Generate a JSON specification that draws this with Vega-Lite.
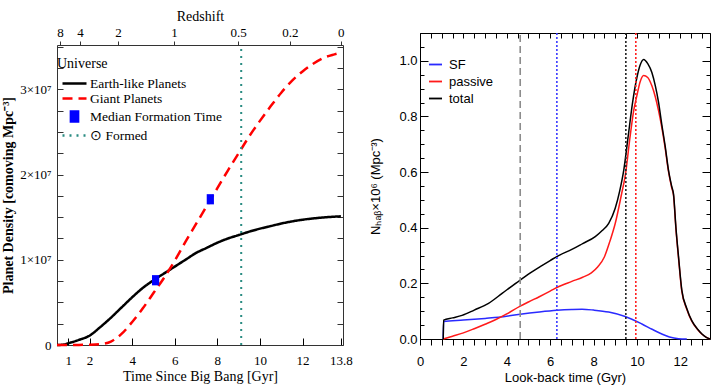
{
  "$schema": "https://vega.github.io/schema/vega-lite/v6.json",
  "padding": {"left": 1, "top": 8, "right": 2, "bottom": 2},
  "background": "white",
  "spacing": 16,
  "resolve": {
    "scale": {"color": "independent", "strokeDash": "independent", "shape": "independent", "stroke": "independent"},
    "legend": {"color": "independent", "strokeDash": "independent", "shape": "independent", "stroke": "independent"}
  },
  "datasets": {
    "planets": [
      {"series": "Earth-like Planets", "t": 0.47, "density": 0},
      {"series": "Earth-like Planets", "t": 0.8, "density": 50000},
      {"series": "Earth-like Planets", "t": 1.0, "density": 200000},
      {"series": "Earth-like Planets", "t": 1.5, "density": 600000},
      {"series": "Earth-like Planets", "t": 2.0, "density": 1100000},
      {"series": "Earth-like Planets", "t": 2.5, "density": 2100000},
      {"series": "Earth-like Planets", "t": 3.0, "density": 3200000},
      {"series": "Earth-like Planets", "t": 3.5, "density": 4400000},
      {"series": "Earth-like Planets", "t": 4.0, "density": 5600000},
      {"series": "Earth-like Planets", "t": 4.5, "density": 6700000},
      {"series": "Earth-like Planets", "t": 5.0, "density": 7600000},
      {"series": "Earth-like Planets", "t": 5.5, "density": 8400000},
      {"series": "Earth-like Planets", "t": 6.0, "density": 9200000},
      {"series": "Earth-like Planets", "t": 6.5, "density": 10000000},
      {"series": "Earth-like Planets", "t": 7.0, "density": 10800000},
      {"series": "Earth-like Planets", "t": 7.5, "density": 11400000},
      {"series": "Earth-like Planets", "t": 8.0, "density": 12000000},
      {"series": "Earth-like Planets", "t": 8.5, "density": 12500000},
      {"series": "Earth-like Planets", "t": 9.0, "density": 12900000},
      {"series": "Earth-like Planets", "t": 9.5, "density": 13300000},
      {"series": "Earth-like Planets", "t": 10.0, "density": 13650000},
      {"series": "Earth-like Planets", "t": 10.5, "density": 13950000},
      {"series": "Earth-like Planets", "t": 11.0, "density": 14250000},
      {"series": "Earth-like Planets", "t": 11.5, "density": 14500000},
      {"series": "Earth-like Planets", "t": 12.0, "density": 14700000},
      {"series": "Earth-like Planets", "t": 12.5, "density": 14850000},
      {"series": "Earth-like Planets", "t": 13.0, "density": 14970000},
      {"series": "Earth-like Planets", "t": 13.8, "density": 15100000},
      {"series": "Giant Planets", "t": 0.47, "density": 0},
      {"series": "Giant Planets", "t": 1.0, "density": 0},
      {"series": "Giant Planets", "t": 1.5, "density": 10000},
      {"series": "Giant Planets", "t": 2.0, "density": 30000},
      {"series": "Giant Planets", "t": 2.5, "density": 100000},
      {"series": "Giant Planets", "t": 3.0, "density": 400000},
      {"series": "Giant Planets", "t": 3.5, "density": 1300000},
      {"series": "Giant Planets", "t": 4.0, "density": 2700000},
      {"series": "Giant Planets", "t": 4.5, "density": 4300000},
      {"series": "Giant Planets", "t": 5.0, "density": 6100000},
      {"series": "Giant Planets", "t": 5.5, "density": 7900000},
      {"series": "Giant Planets", "t": 6.0, "density": 9900000},
      {"series": "Giant Planets", "t": 6.5, "density": 12100000},
      {"series": "Giant Planets", "t": 7.0, "density": 14200000},
      {"series": "Giant Planets", "t": 7.5, "density": 16300000},
      {"series": "Giant Planets", "t": 8.0, "density": 18400000},
      {"series": "Giant Planets", "t": 8.5, "density": 20500000},
      {"series": "Giant Planets", "t": 9.0, "density": 22500000},
      {"series": "Giant Planets", "t": 9.5, "density": 24500000},
      {"series": "Giant Planets", "t": 10.0, "density": 26300000},
      {"series": "Giant Planets", "t": 10.5, "density": 28000000},
      {"series": "Giant Planets", "t": 11.0, "density": 29600000},
      {"series": "Giant Planets", "t": 11.5, "density": 31000000},
      {"series": "Giant Planets", "t": 12.0, "density": 32100000},
      {"series": "Giant Planets", "t": 12.5, "density": 33000000},
      {"series": "Giant Planets", "t": 13.0, "density": 33700000},
      {"series": "Giant Planets", "t": 13.5, "density": 34100000},
      {"series": "Giant Planets", "t": 13.8, "density": 34300000}
    ],
    "median": [
      {"series": "Median Formation Time", "planets": "Earth-like", "t": 5.1, "density": 7600000},
      {"series": "Median Formation Time", "planets": "Giant", "t": 7.67, "density": 17100000}
    ],
    "formed": [
      {"series": "⊙ Formed", "t": 9.12}
    ],
    "nhab": [
      {"series": "SF", "t": 1.07, "n": 0},
      {"series": "SF", "t": 1.09, "n": 0.063},
      {"series": "SF", "t": 2.0, "n": 0.068},
      {"series": "SF", "t": 3.0, "n": 0.074},
      {"series": "SF", "t": 3.62, "n": 0.078},
      {"series": "SF", "t": 4.62, "n": 0.089},
      {"series": "SF", "t": 5.5, "n": 0.097},
      {"series": "SF", "t": 6.31, "n": 0.103},
      {"series": "SF", "t": 7.0, "n": 0.106},
      {"series": "SF", "t": 7.47, "n": 0.107},
      {"series": "SF", "t": 8.0, "n": 0.104},
      {"series": "SF", "t": 8.7, "n": 0.097},
      {"series": "SF", "t": 9.46, "n": 0.081},
      {"series": "SF", "t": 10.23, "n": 0.054},
      {"series": "SF", "t": 10.7, "n": 0.035},
      {"series": "SF", "t": 11.15, "n": 0.018},
      {"series": "SF", "t": 11.5, "n": 0.007},
      {"series": "SF", "t": 11.92, "n": 0.001},
      {"series": "SF", "t": 12.3, "n": 0},
      {"series": "passive", "t": 1.07, "n": 0},
      {"series": "passive", "t": 1.5, "n": 0.01},
      {"series": "passive", "t": 2.0, "n": 0.022},
      {"series": "passive", "t": 2.5, "n": 0.037},
      {"series": "passive", "t": 3.0, "n": 0.053},
      {"series": "passive", "t": 3.5, "n": 0.07},
      {"series": "passive", "t": 4.0, "n": 0.09},
      {"series": "passive", "t": 4.62, "n": 0.118},
      {"series": "passive", "t": 5.0, "n": 0.133},
      {"series": "passive", "t": 5.5, "n": 0.152},
      {"series": "passive", "t": 6.0, "n": 0.172},
      {"series": "passive", "t": 6.31, "n": 0.185},
      {"series": "passive", "t": 7.0, "n": 0.207},
      {"series": "passive", "t": 7.5, "n": 0.222},
      {"series": "passive", "t": 7.9, "n": 0.238},
      {"series": "passive", "t": 8.2, "n": 0.26},
      {"series": "passive", "t": 8.5, "n": 0.295},
      {"series": "passive", "t": 8.75, "n": 0.35},
      {"series": "passive", "t": 9.0, "n": 0.415},
      {"series": "passive", "t": 9.3, "n": 0.524},
      {"series": "passive", "t": 9.46, "n": 0.586},
      {"series": "passive", "t": 9.69, "n": 0.73},
      {"series": "passive", "t": 9.85, "n": 0.82},
      {"series": "passive", "t": 10.0, "n": 0.875},
      {"series": "passive", "t": 10.15, "n": 0.925},
      {"series": "passive", "t": 10.31, "n": 0.947},
      {"series": "passive", "t": 10.5, "n": 0.94},
      {"series": "passive", "t": 10.69, "n": 0.91},
      {"series": "passive", "t": 10.85, "n": 0.87},
      {"series": "passive", "t": 11.0, "n": 0.82},
      {"series": "passive", "t": 11.15, "n": 0.76},
      {"series": "passive", "t": 11.3, "n": 0.688},
      {"series": "passive", "t": 11.45, "n": 0.605},
      {"series": "passive", "t": 11.6, "n": 0.545},
      {"series": "passive", "t": 11.69, "n": 0.515},
      {"series": "passive", "t": 11.8, "n": 0.395},
      {"series": "passive", "t": 11.92, "n": 0.29},
      {"series": "passive", "t": 12.07, "n": 0.172},
      {"series": "passive", "t": 12.3, "n": 0.107},
      {"series": "passive", "t": 12.53, "n": 0.064},
      {"series": "passive", "t": 12.8, "n": 0.034},
      {"series": "passive", "t": 13.0, "n": 0.017},
      {"series": "passive", "t": 13.2, "n": 0.006},
      {"series": "passive", "t": 13.37, "n": 0},
      {"series": "total", "t": 1.07, "n": 0},
      {"series": "total", "t": 1.09, "n": 0.068},
      {"series": "total", "t": 1.5, "n": 0.076},
      {"series": "total", "t": 1.94, "n": 0.085},
      {"series": "total", "t": 2.5, "n": 0.104},
      {"series": "total", "t": 3.16, "n": 0.128},
      {"series": "total", "t": 3.8, "n": 0.165},
      {"series": "total", "t": 4.62, "n": 0.212},
      {"series": "total", "t": 5.0, "n": 0.233},
      {"series": "total", "t": 5.54, "n": 0.26},
      {"series": "total", "t": 6.0, "n": 0.282},
      {"series": "total", "t": 6.39, "n": 0.3},
      {"series": "total", "t": 7.0, "n": 0.322},
      {"series": "total", "t": 7.5, "n": 0.343},
      {"series": "total", "t": 8.08, "n": 0.368},
      {"series": "total", "t": 8.4, "n": 0.39},
      {"series": "total", "t": 8.7, "n": 0.416},
      {"series": "total", "t": 9.0, "n": 0.47},
      {"series": "total", "t": 9.2, "n": 0.53},
      {"series": "total", "t": 9.4, "n": 0.61},
      {"series": "total", "t": 9.6, "n": 0.73},
      {"series": "total", "t": 9.8, "n": 0.85},
      {"series": "total", "t": 10.0, "n": 0.94},
      {"series": "total", "t": 10.15, "n": 0.985},
      {"series": "total", "t": 10.31, "n": 1.005},
      {"series": "total", "t": 10.5, "n": 0.99},
      {"series": "total", "t": 10.69, "n": 0.958},
      {"series": "total", "t": 10.85, "n": 0.91},
      {"series": "total", "t": 11.0, "n": 0.85},
      {"series": "total", "t": 11.15, "n": 0.77},
      {"series": "total", "t": 11.3, "n": 0.695},
      {"series": "total", "t": 11.45, "n": 0.61},
      {"series": "total", "t": 11.6, "n": 0.55},
      {"series": "total", "t": 11.69, "n": 0.52},
      {"series": "total", "t": 11.8, "n": 0.4},
      {"series": "total", "t": 11.92, "n": 0.295},
      {"series": "total", "t": 12.07, "n": 0.176},
      {"series": "total", "t": 12.3, "n": 0.11},
      {"series": "total", "t": 12.53, "n": 0.066},
      {"series": "total", "t": 12.8, "n": 0.035},
      {"series": "total", "t": 13.0, "n": 0.018},
      {"series": "total", "t": 13.2, "n": 0.006},
      {"series": "total", "t": 13.37, "n": 0}
    ],
    "vlines": [
      {"ref": "Sun", "t": 4.62},
      {"ref": "SF median", "t": 6.31},
      {"ref": "total median", "t": 9.49},
      {"ref": "passive median", "t": 9.95}
    ]
  },
  "hconcat": [
    {
      "vconcat": [
        {
          "width": 286,
          "height": 12,
          "view": {"stroke": null},
          "data": {"values": [{}]},
          "mark": {"type": "point", "opacity": 0}
        },
        {
          "width": 286,
          "height": 300,
          "view": {"stroke": "#333333", "strokeWidth": 1},
          "layer": [
            {
              "data": {"name": "planets"},
              "mark": {"type": "line", "strokeWidth": 2.5, "interpolate": "monotone"},
              "encoding": {
                "x": {
                  "field": "t", "type": "quantitative",
                  "scale": {"domain": [0.47, 13.9], "nice": false, "zero": false},
                  "axis": {
                    "orient": "bottom", "values": [1, 2, 4, 6, 8, 10, 12, 13.8],
                    "labelExpr": "datum.value + ''",
                    "title": "Time Since Big Bang [Gyr]",
                    "titleFont": "Liberation Serif", "titleFontSize": 14, "titleFontWeight": "normal", "titleColor": "black",
                    "labelFont": "Liberation Serif", "labelFontSize": 13, "labelColor": "black",
                    "domain": false, "grid": false, "tickSize": -7, "tickColor": "black",
                    "labelPadding": 16, "titlePadding": 2, "labelFlush": false, "labelOverlap": false
                  }
                },
                "y": {
                  "field": "density", "type": "quantitative",
                  "scale": {"domain": [0, 35200000], "nice": false},
                  "axis": {
                    "orient": "left",
                    "values": [0, 2500000, 5000000, 7500000, 10000000, 12500000, 15000000, 17500000, 20000000, 22500000, 25000000, 27500000, 30000000, 32500000, 35000000],
                    "labelExpr": "datum.value == 0 ? '0' : (datum.value % 10000000 == 0 ? (datum.value / 10000000) + '×10⁷' : '')",
                    "title": "Planet Density [comoving Mpc⁻³]",
                    "titleFont": "Liberation Serif", "titleFontSize": 14, "titleFontWeight": "bold", "titleColor": "black",
                    "labelFont": "Liberation Serif", "labelFontSize": 13, "labelColor": "black",
                    "domain": false, "grid": false, "ticks": true, "tickWidth": 1, "tickColor": "#333333", "tickSize": -6,
                    "labelPadding": 12, "titlePadding": 4, "labelFlush": false, "labelOverlap": false
                  }
                },
                "color": {
                  "field": "series", "type": "nominal",
                  "scale": {"domain": ["Earth-like Planets", "Giant Planets", "Median Formation Time", "⊙ Formed"], "range": ["#000000", "#ff0000", "#0000ff", "#2a8c82"]},
                  "legend": {
                    "title": "Universe", "orient": "none", "legendX": 0, "legendY": 24,
                    "titleFont": "Liberation Serif", "titleFontSize": 14, "titleFontWeight": "normal", "titleColor": "black", "titlePadding": 5,
                    "labelFont": "Liberation Serif", "labelFontSize": 13.5, "labelColor": "black",
                    "symbolSize": 144, "symbolStrokeWidth": 2.5, "rowPadding": 1, "labelOffset": 8, "symbolOffset": 10
                  }
                },
                "strokeDash": {
                  "field": "series", "type": "nominal",
                  "scale": {"domain": ["Earth-like Planets", "Giant Planets", "Median Formation Time", "⊙ Formed"], "range": [[1, 0], [10, 6], [1, 0], [2, 5]]},
                  "legend": {
                    "title": "Universe", "orient": "none", "legendX": 0, "legendY": 24,
                    "titleFont": "Liberation Serif", "titleFontSize": 14, "titleFontWeight": "normal", "titleColor": "black", "titlePadding": 5,
                    "labelFont": "Liberation Serif", "labelFontSize": 13.5, "labelColor": "black",
                    "symbolSize": 144, "symbolStrokeWidth": 2.5, "rowPadding": 1, "labelOffset": 8, "symbolOffset": 10
                  }
                }
              }
            },
            {
              "data": {"name": "median"},
              "mark": {"type": "point", "filled": true, "opacity": 1, "size": 144},
              "encoding": {
                "x": {"field": "t", "type": "quantitative", "axis": null},
                "y": {"field": "density", "type": "quantitative", "axis": null},
                "color": {"field": "series", "type": "nominal"},
                "shape": {
                  "field": "series", "type": "nominal",
                  "scale": {"domain": ["Earth-like Planets", "Giant Planets", "Median Formation Time", "⊙ Formed"], "range": ["M-2,0H2", "M-2,0H2", "M-0.6,-0.85H0.6V0.85H-0.6Z", "M-2,0H2"]},
                  "legend": {
                    "title": "Universe", "orient": "none", "legendX": 0, "legendY": 24,
                    "titleFont": "Liberation Serif", "titleFontSize": 14, "titleFontWeight": "normal", "titleColor": "black", "titlePadding": 5,
                    "labelFont": "Liberation Serif", "labelFontSize": 13.5, "labelColor": "black",
                    "symbolSize": 144, "symbolStrokeWidth": 2.5, "rowPadding": 1, "labelOffset": 8, "symbolOffset": 10
                  }
                }
              }
            },
            {
              "data": {"name": "formed"},
              "mark": {"type": "rule", "strokeWidth": 2},
              "encoding": {
                "x": {
                  "field": "t", "type": "quantitative",
                  "axis": {
                    "orient": "top", "values": [0.61, 1.55, 3.33, 5.96, 8.97, 11.4, 13.8],
                    "labelExpr": "datum.value < 1 ? '8' : datum.value < 2 ? '4' : datum.value < 4 ? '2' : datum.value < 7 ? '1' : datum.value < 10 ? '0.5' : datum.value < 13 ? '0.2' : '0'",
                    "title": "Redshift",
                    "titleFont": "Liberation Serif", "titleFontSize": 14, "titleFontWeight": "normal", "titleColor": "black",
                    "labelFont": "Liberation Serif", "labelFontSize": 13, "labelColor": "black",
                    "domain": true, "domainOpacity": 0, "grid": false, "tickColor": "#333333", "tickSize": 4,
                    "labelPadding": 2, "titlePadding": 3, "labelFlush": false, "labelOverlap": false
                  }
                },
                "y": {
                  "datum": 0, "type": "quantitative",
                  "axis": {
                    "orient": "right",
                    "values": [0, 2500000, 5000000, 7500000, 10000000, 12500000, 15000000, 17500000, 20000000, 22500000, 25000000, 27500000, 30000000, 32500000, 35000000],
                    "labels": false, "title": null, "domain": false, "grid": false, "tickColor": "#333333", "tickSize": -6
                  }
                },
                "y2": {"datum": 35200000},
                "color": {"field": "series", "type": "nominal"},
                "strokeDash": {"field": "series", "type": "nominal"}
              }
            }
          ]
        }
      ],
      "spacing": 0,
      "bounds": "flush"
    },
    {
      "width": 290,
      "height": 306,
      "view": {"stroke": "#000000", "strokeWidth": 1},
      "layer": [
        {
          "data": {"name": "nhab"},
          "mark": {"type": "line", "strokeWidth": 1.5, "interpolate": "monotone"},
          "encoding": {
            "x": {
              "field": "t", "type": "quantitative",
              "scale": {"domain": [0, 13.37], "nice": false, "zero": false},
              "axis": {
                "orient": "bottom",
                "values": [0, 0.5, 1, 1.5, 2, 2.5, 3, 3.5, 4, 4.5, 5, 5.5, 6, 6.5, 7, 7.5, 8, 8.5, 9, 9.5, 10, 10.5, 11, 11.5, 12, 12.5, 13],
                "labelExpr": "datum.value % 2 == 0 ? datum.value + '' : ''",
                "title": "Look-back time (Gyr)",
                "titleFont": "Liberation Sans", "titleFontSize": 13, "titleFontWeight": "normal", "titleColor": "black",
                "labelFont": "Liberation Sans", "labelFontSize": 13, "labelColor": "black",
                "domain": false, "grid": false, "tickColor": "#000000",
                "tickSize": 6,
                "labelPadding": 10, "titlePadding": 3, "labelFlush": false, "labelOverlap": false
              }
            },
            "y": {
              "field": "n", "type": "quantitative",
              "scale": {"domain": [0, 1.1], "nice": false},
              "axis": {
                "orient": "left",
                "values": [0, 0.05, 0.1, 0.15, 0.2, 0.25, 0.3, 0.35, 0.4, 0.45, 0.5, 0.55, 0.6, 0.65, 0.7, 0.75, 0.8, 0.85, 0.9, 0.95, 1.0, 1.05, 1.1],
                "labelExpr": "round(datum.value * 100) % 20 == 0 ? format(datum.value, '.1f') : ''",
                "title": "Nₕₐᵦ×10⁶ (Mpc⁻³)",
                "titleFont": "Liberation Sans", "titleFontSize": 13, "titleFontWeight": "normal", "titleColor": "black",
                "labelFont": "Liberation Sans", "labelFontSize": 13, "labelColor": "black",
                "domain": false, "grid": false, "ticks": true, "tickWidth": 1, "tickColor": "#000000",
                "tickSize": {"condition": {"test": "round(datum.value * 100) % 20 == 0", "value": -8}, "value": -4},
                "labelPadding": 11, "titlePadding": 16, "labelFlush": false, "labelOverlap": false
              }
            },
            "color": {
              "field": "series", "type": "nominal",
              "scale": {"domain": ["SF", "passive", "total"], "range": ["#2a2aff", "#ff1a1a", "#000000"]},
              "legend": {
                "title": null, "orient": "none", "legendX": 8, "legendY": 24,
                "labelFont": "Liberation Sans", "labelFontSize": 13, "labelColor": "black",
                "symbolType": "stroke", "symbolSize": 169, "symbolStrokeWidth": 1.8, "rowPadding": 2, "labelOffset": 6
              }
            }
          }
        },
        {
          "data": {"name": "vlines"},
          "mark": {"type": "rule", "strokeWidth": 1.6},
          "encoding": {
            "x": {
              "field": "t", "type": "quantitative",
              "axis": {
                "orient": "top",
                "values": [0, 0.5, 1, 1.5, 2, 2.5, 3, 3.5, 4, 4.5, 5, 5.5, 6, 6.5, 7, 7.5, 8, 8.5, 9, 9.5, 10, 10.5, 11, 11.5, 12, 12.5, 13],
                "labels": false, "title": null, "domain": false, "grid": false, "tickColor": "#000000",
                "tickSize": -5
              }
            },
            "y": {
              "datum": 0, "type": "quantitative",
              "axis": {
                "orient": "right",
                "values": [0, 0.05, 0.1, 0.15, 0.2, 0.25, 0.3, 0.35, 0.4, 0.45, 0.5, 0.55, 0.6, 0.65, 0.7, 0.75, 0.8, 0.85, 0.9, 0.95, 1.0, 1.05, 1.1],
                "labels": false, "title": null, "domain": false, "grid": false, "tickColor": "#000000",
                "tickSize": {"condition": {"test": "round(datum.value * 100) % 20 == 0", "value": -8}, "value": -4}
              }
            },
            "y2": {"datum": 1.1},
            "stroke": {
              "field": "ref", "type": "nominal",
              "scale": {"domain": ["Sun", "SF median", "total median", "passive median"], "range": ["#8c8c8c", "#3a3aff", "#222222", "#ff2020"]},
              "legend": null
            },
            "strokeDash": {
              "field": "ref", "type": "nominal",
              "scale": {"domain": ["Sun", "SF median", "total median", "passive median"], "range": [[7, 4], [2, 2], [2, 2], [2, 2]]},
              "legend": null
            }
          }
        }
      ]
    }
  ]
}
